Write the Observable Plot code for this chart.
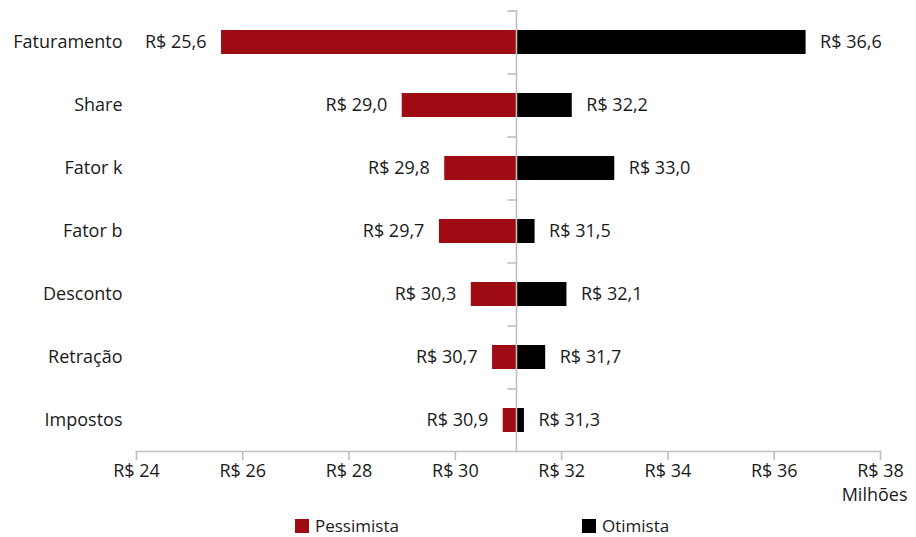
<!DOCTYPE html>
<html>
<head>
<meta charset="utf-8">
<script src="https://cdn.jsdelivr.net/npm/d3@7"></script>
<script src="https://cdn.jsdelivr.net/npm/@observablehq/plot@0.6"></script>
<style>
  body { margin: 0; background: #fff; font-family: "Open Sans", sans-serif; }
  #wrap { position: relative; width: 916px; height: 537px; }
  .leg { position: absolute; top: 517px; height: 18px; font-size: 17px; line-height: 18px; color: #1a1a1a; display: flex; align-items: center; white-space: nowrap; }
  .sw { width: 14px; height: 14px; margin-right: 6px; }
</style>
</head>
<body>
<div id="wrap"></div>
<script>
const categories = ["Faturamento", "Share", "Fator k", "Fator b", "Desconto", "Retração", "Impostos"];
const pessimista = [25.6, 29.0, 29.8, 29.7, 30.3, 30.7, 30.9];
const otimista = [36.6, 32.2, 33.0, 31.5, 32.1, 31.7, 31.3];
const base = 31.15;
const xTicks = [24, 26, 28, 30, 32, 34, 36, 38];
const seriesNames = ["Pessimista", "Otimista"];
const seriesColors = ["#9E0B12", "#000000"];

const rows = categories.flatMap((c, i) => [
  {cat: c, serie: seriesNames[0], v: pessimista[i]},
  {cat: c, serie: seriesNames[1], v: otimista[i]}
]);
const fmt = v => "R$ " + v.toFixed(1).replace(".", ",");

const W = 916, H = 515, mT = 10, mB = 64;
const step = (H - mT - mB) / categories.length;

const chart = Plot.plot({
  width: W,
  height: H,
  marginLeft: 136,
  marginRight: 36,
  marginTop: mT,
  marginBottom: mB,
  style: {fontFamily: "Open Sans, sans-serif", fontSize: "18px", color: "#1a1a1a", background: "#fff"},
  x: {domain: [24, 38]},
  y: {domain: categories, paddingInner: 0.62, paddingOuter: 0.31},
  color: {domain: seriesNames, range: seriesColors},
  marks: [
    Plot.barX(rows, {y: "cat", x1: base, x2: "v", fill: "serie"}),
    Plot.ruleX([base], {stroke: "#bfbfbf", strokeWidth: 1.6}),
    Plot.ruleY(categories, {y: d => d, x1: base - 0.16, x2: base, dy: -step / 2, stroke: "#bfbfbf", strokeWidth: 1.6}),
    Plot.frame({anchor: "bottom", stroke: "#bfbfbf", strokeWidth: 1.6}),
    Plot.axisX({ticks: xTicks, tickFormat: d => "R$ " + d, tickSize: 9, tickPadding: 4, stroke: "#bfbfbf", strokeWidth: 1.6, fill: "#1a1a1a", label: null}),
    Plot.axisY({tickSize: 0, tickPadding: 14, label: null, fill: "#1a1a1a"}),
    Plot.text(rows.filter(d => d.serie === "Pessimista"), {y: "cat", x: "v", text: d => fmt(d.v), textAnchor: "end", dx: -15, fill: "#1a1a1a"}),
    Plot.text(rows.filter(d => d.serie === "Otimista"), {y: "cat", x: "v", text: d => fmt(d.v), textAnchor: "start", dx: 14, fill: "#1a1a1a"}),
    Plot.text(["Milhões"], {frameAnchor: "bottom-right", text: d => d, textAnchor: "end", dx: 27, dy: 49, fill: "#1a1a1a"})
  ]
});
const wrap = document.getElementById("wrap");
wrap.appendChild(chart);

const legPos = [295, 582];
seriesNames.forEach((s, i) => {
  const d = document.createElement("div");
  d.className = "leg";
  d.style.left = legPos[i] + "px";
  d.innerHTML = `<span class="sw" style="background:${seriesColors[i]}"></span><span>${s}</span>`;
  wrap.appendChild(d);
});
</script>
</body>
</html>
